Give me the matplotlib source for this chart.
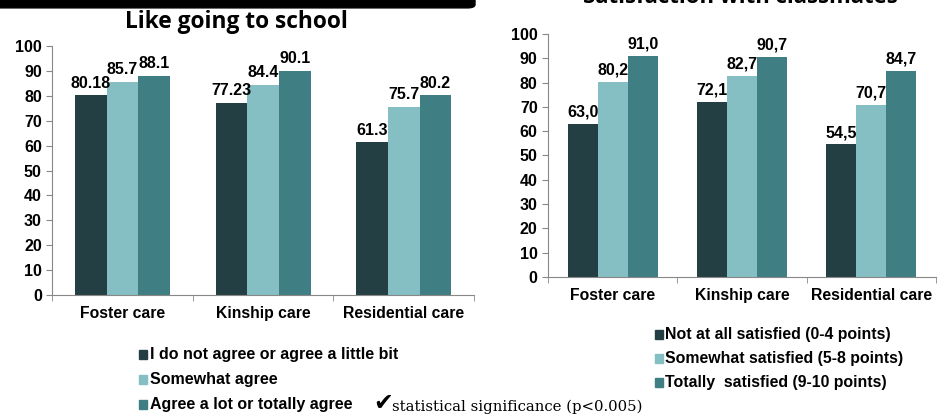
import matplotlib.pyplot as plt
import numpy as np
from matplotlib.patches import FancyBboxPatch, Rectangle

plt.rcParams['font.family'] = ['Liberation Sans', 'DejaVu Sans']

care = ['Foster care', 'Kinship care', 'Residential care']

school_low = [80.18, 77.23, 61.3]
school_mid = [85.7, 84.4, 75.7]
school_high = [88.1, 90.1, 80.2]
school_labels = ['I do not agree or agree a little bit', 'Somewhat agree',
                 'Agree a lot or totally agree']

mates_low = [63.0, 72.1, 54.5]
mates_mid = [80.2, 82.7, 70.7]
mates_high = [91.0, 90.7, 84.7]
mates_labels = ['Not at all satisfied (0-4 points)', 'Somewhat satisfied (5-8 points)',
                'Totally  satisfied (9-10 points)']

colors = ['#243f44', '#85bec3', '#3f7f83']


def draw(ax, series, bw, fmt):
    x = np.arange(len(care))
    for i, vals in enumerate(series):
        pos = x + (i - 1) * bw
        ax.bar(pos, vals, width=bw, color=colors[i], edgecolor='none')
        for p, v in zip(pos, vals):
            ax.text(p, v + 1.8, fmt(v), ha='center', va='bottom',
                    fontsize=11.5, fontweight='bold')
    ax.set_xlim(-0.5, len(care) - 0.5)
    ax.set_ylim(0, 100)
    ax.set_yticks(range(0, 101, 10))
    ax.set_xticks(x)
    ax.set_xticklabels(care, fontsize=11.3, fontweight='bold')
    ax.set_xticks(np.arange(-0.5, len(care)), minor=True)
    ax.tick_params(axis='x', which='major', length=0, pad=8)
    ax.tick_params(axis='x', which='minor', length=4, color='#888888')
    ax.tick_params(axis='y', length=4, color='#888888', labelsize=11.5)
    for lab in ax.get_yticklabels():
        lab.set_fontweight('bold')
    for s in ['top', 'right']:
        ax.spines[s].set_visible(False)
    for s in ['left', 'bottom']:
        ax.spines[s].set_color('#888888')


fig = plt.figure(figsize=(9.5, 4.15), dpi=100)

ax1 = fig.add_axes([0.055, 0.289, 0.444, 0.600])
draw(ax1, [school_low, school_mid, school_high], 0.225, lambda v: f'{v:g}')

ax2 = fig.add_axes([0.577, 0.333, 0.408, 0.585])
draw(ax2, [mates_low, mates_mid, mates_high], 0.233,
     lambda v: f'{v:.1f}'.replace('.', ','))

# black banner above the left chart
fig.patches.append(FancyBboxPatch((-0.01, 0.981), 0.51, 0.04,
                                  boxstyle='round,pad=0,rounding_size=0.008',
                                  transform=fig.transFigure, color='black'))

fig.text(0.249, 0.947, 'Like going to school', ha='center', va='center',
         fontsize=16.4, fontweight='bold', family=['Open Sans', 'DejaVu Sans'])
fig.text(0.779, 1.005, 'Satisfaction with classmates', ha='center', va='center',
         fontsize=15.9, fontweight='bold', family=['Open Sans', 'DejaVu Sans'])


def legend(x, ys, labels, size):
    for y, lab, c in zip(ys, labels, colors):
        fig.patches.append(Rectangle((x, y - 0.012), 0.0085, 0.021,
                                     transform=fig.transFigure, color=c))
        fig.text(x + 0.0115, y, lab, ha='left', va='center',
                 fontsize=size, fontweight='bold')


legend(0.146, [1 - 354 / 415, 1 - 379 / 415, 1 - 404 / 415], school_labels, 11.5)
legend(0.689, [1 - 334 / 415, 1 - 358 / 415, 1 - 382 / 415], mates_labels, 11.4)

fig.text(0.393, 1 - 403 / 415, '\u2714', ha='left', va='center', fontsize=17,
         family=['DejaVu Sans'])
fig.text(0.413, 1 - 407 / 415, 'statistical significance (p<0.005)', ha='left',
         va='center', fontsize=10.7, family=['DejaVu Serif'])

fig.savefig('out.png', dpi=100)
